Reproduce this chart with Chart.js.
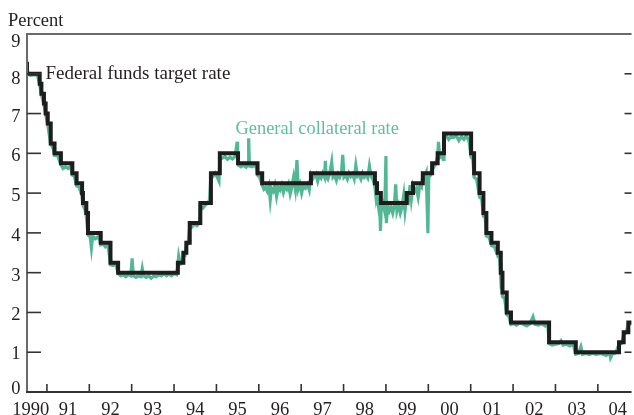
<!DOCTYPE html>
<html>
<head>
<meta charset="utf-8">
<script src="https://cdn.jsdelivr.net/npm/chart.js@4"></script>
<style>
html,body{margin:0;padding:0;background:#fff;}
#wrap{width:634px;height:415px;position:relative;}
</style>
</head>
<body>
<div id="wrap"><canvas id="c" width="634" height="415"></canvas></div>
<script>
// ---- data ----
const yTicks = [0,1,2,3,4,5,6,7,8,9];
const yearTickValues = [1991,1992,1993,1994,1995,1996,1997,1998,1999,2000,2001,2002,2003,2004];
const yearLabelValues = [1990.62,1991.5,1992.5,1993.5,1994.5,1995.5,1996.5,1997.5,1998.5,1999.5,2000.5,2001.5,2002.5,2003.5,2004.47];
const yearLabels = ['1990','91','92','93','94','95','96','97','98','99','00','01','02','03','04'];

// Federal funds target rate: change dates (decimal years) and new levels
const fedDates = [1990.52,1990.53,1990.83,1990.87,1990.93,1990.97,1991.02,1991.09,1991.18,1991.33,1991.60,1991.70,1991.83,1991.85,1991.93,1991.97,1992.27,1992.50,1992.68,1994.09,1994.22,1994.29,1994.37,1994.62,1994.87,1995.08,1995.51,1995.97,1996.08,1997.23,1998.74,1998.79,1998.88,1999.49,1999.64,1999.87,2000.09,2000.22,2000.37,2001.01,2001.08,2001.21,2001.30,2001.37,2001.49,2001.64,2001.71,2001.75,2001.85,2001.95,2002.85,2003.48,2004.50,2004.61,2004.72,2004.80];
const fedRates = [8.25,8.00,7.75,7.50,7.25,7.00,6.75,6.25,6.00,5.75,5.50,5.25,5.00,4.75,4.50,4.00,3.75,3.25,3.00,3.25,3.50,3.75,4.25,4.75,5.50,6.00,5.75,5.50,5.25,5.50,5.25,5.00,4.75,5.00,5.25,5.50,5.75,6.00,6.50,6.00,5.50,5.00,4.50,4.00,3.75,3.50,3.00,2.50,2.00,1.75,1.25,1.00,1.25,1.50,1.75,1.75];

// General collateral rate
const gcDates = [1990.52,1990.56,1990.62,1990.70,1990.78,1990.83,1990.87,1990.93,1990.97,1991.02,1991.09,1991.14,1991.18,1991.25,1991.33,1991.38,1991.44,1991.50,1991.56,1991.60,1991.65,1991.70,1991.76,1991.83,1991.85,1991.90,1991.93,1991.97,1992.02,1992.05,1992.08,1992.14,1992.20,1992.25,1992.27,1992.32,1992.38,1992.44,1992.50,1992.56,1992.62,1992.68,1992.74,1992.80,1992.86,1992.92,1992.98,1993.01,1993.04,1993.10,1993.16,1993.22,1993.25,1993.28,1993.34,1993.40,1993.46,1993.52,1993.58,1993.64,1993.70,1993.76,1993.82,1993.88,1993.94,1994.00,1994.06,1994.09,1994.11,1994.15,1994.20,1994.22,1994.26,1994.29,1994.33,1994.37,1994.42,1994.48,1994.54,1994.60,1994.62,1994.68,1994.74,1994.80,1994.84,1994.87,1994.92,1994.97,1995.02,1995.06,1995.08,1995.14,1995.20,1995.26,1995.32,1995.38,1995.44,1995.49,1995.50,1995.52,1995.58,1995.64,1995.70,1995.75,1995.76,1995.78,1995.84,1995.90,1995.95,1995.97,1996.02,1996.08,1996.12,1996.16,1996.20,1996.24,1996.27,1996.30,1996.34,1996.38,1996.42,1996.46,1996.50,1996.54,1996.58,1996.62,1996.66,1996.70,1996.74,1996.78,1996.82,1996.86,1996.90,1996.93,1996.97,1997.01,1997.05,1997.10,1997.15,1997.19,1997.23,1997.27,1997.31,1997.35,1997.39,1997.43,1997.47,1997.51,1997.55,1997.57,1997.59,1997.63,1997.67,1997.72,1997.75,1997.79,1997.83,1997.87,1997.91,1997.95,1997.98,1998.01,1998.05,1998.09,1998.13,1998.17,1998.21,1998.25,1998.29,1998.33,1998.37,1998.41,1998.45,1998.49,1998.53,1998.57,1998.61,1998.65,1998.69,1998.72,1998.74,1998.77,1998.79,1998.82,1998.85,1998.87,1998.89,1998.93,1998.97,1999.00,1999.01,1999.04,1999.08,1999.12,1999.16,1999.20,1999.23,1999.26,1999.30,1999.34,1999.38,1999.42,1999.45,1999.49,1999.53,1999.57,1999.60,1999.64,1999.68,1999.72,1999.76,1999.80,1999.84,1999.87,1999.91,1999.95,1999.99,2000.01,2000.05,2000.09,2000.13,2000.17,2000.22,2000.24,2000.27,2000.31,2000.35,2000.37,2000.42,2000.48,2000.54,2000.60,2000.66,2000.72,2000.78,2000.84,2000.90,2000.96,2001.01,2001.05,2001.08,2001.14,2001.21,2001.26,2001.30,2001.34,2001.37,2001.43,2001.49,2001.56,2001.64,2001.68,2001.71,2001.73,2001.75,2001.80,2001.85,2001.90,2001.95,2002.01,2002.08,2002.16,2002.24,2002.32,2002.40,2002.47,2002.52,2002.60,2002.68,2002.76,2002.82,2002.85,2002.92,2003.00,2003.08,2003.13,2003.18,2003.26,2003.34,2003.42,2003.48,2003.54,2003.60,2003.64,2003.72,2003.80,2003.88,2003.96,2004.04,2004.12,2004.20,2004.28,2004.30,2004.34,2004.42,2004.50,2004.56,2004.61,2004.66,2004.72,2004.79];
const gcRates = [8.22,7.98,7.96,7.98,7.95,7.72,7.48,7.22,6.98,6.72,6.22,6.15,5.95,5.95,5.72,5.62,5.66,5.62,5.68,5.45,5.42,5.18,5.15,4.92,4.70,4.58,4.42,3.95,3.90,3.62,3.92,3.85,3.90,3.82,3.70,3.72,3.65,3.72,3.20,3.18,3.22,2.98,2.92,2.95,2.90,2.95,2.92,3.36,2.92,2.88,2.92,2.90,3.10,2.92,2.88,2.92,2.86,2.92,2.90,2.95,2.92,2.97,2.92,2.96,2.92,2.98,2.95,3.20,3.42,3.22,3.25,3.48,3.45,3.70,3.72,4.18,4.15,4.22,4.18,4.25,4.68,4.62,4.70,4.75,4.85,5.45,5.42,5.50,5.40,5.30,5.85,5.88,5.92,5.85,5.90,5.86,5.92,6.29,5.90,5.70,5.66,5.70,5.65,5.72,6.38,5.68,5.66,5.70,5.62,5.45,5.40,5.20,5.10,5.15,5.05,5.18,4.83,5.12,5.05,5.20,4.92,5.15,5.08,5.20,5.02,5.18,5.10,5.22,4.98,5.15,5.40,5.12,5.83,5.10,5.22,5.00,5.18,5.12,5.22,5.08,5.45,5.35,5.42,5.48,5.30,5.45,5.38,5.50,5.40,5.81,5.42,5.35,5.48,5.78,5.40,5.45,5.32,5.48,5.40,5.50,5.96,5.40,5.45,5.35,5.50,5.42,5.48,5.36,5.70,5.42,5.45,5.35,5.50,5.40,5.45,5.38,5.68,5.42,5.35,5.25,5.15,4.85,4.95,4.70,4.90,4.05,4.65,4.75,4.55,5.93,4.25,4.70,4.55,4.65,4.50,4.70,5.22,4.55,4.70,4.50,4.65,4.95,4.55,4.88,4.80,5.20,4.85,5.18,5.05,5.12,4.90,5.20,5.15,5.45,5.38,5.50,3.99,5.40,5.45,5.68,5.65,5.72,5.92,6.29,5.90,5.95,5.85,6.40,6.45,6.35,6.42,6.40,6.45,6.32,6.42,6.35,6.45,6.30,5.90,5.85,5.40,5.35,4.90,4.85,4.42,4.40,3.92,3.90,3.68,3.65,3.42,3.45,2.85,2.95,2.40,2.35,1.95,1.90,1.70,1.72,1.68,1.74,1.70,1.66,1.72,1.89,1.70,1.68,1.72,1.66,1.70,1.22,1.18,1.20,1.22,1.29,1.18,1.20,1.16,1.20,0.95,0.97,1.14,0.95,0.97,0.94,0.98,0.94,0.97,0.95,0.92,0.98,0.86,0.95,0.98,1.20,1.22,1.45,1.48,1.70,1.72];

// ---- chart ----
const FONT = "'Liberation Serif','DejaVu Serif',serif";
const TEXT = '#231f20';
const GREEN = '#52b893';

const framePlugin = {
  id: 'frame',
  afterDraw(chart) {
    const ctx = chart.ctx;
    const xs = chart.scales.x, ys = chart.scales.y;
    const L = chart.chartArea.left, R = chart.chartArea.right;
    const T = chart.chartArea.top, B = chart.chartArea.bottom;
    ctx.save();
    ctx.lineCap = 'butt';
    ctx.strokeStyle = '#6a6a6a';
    ctx.lineWidth = 2;
    ctx.beginPath();
    ctx.moveTo(L, B); ctx.lineTo(L, T); ctx.lineTo(R, T);
    ctx.stroke();
    ctx.strokeStyle = '#333';
    ctx.beginPath();
    ctx.moveTo(L - 1, B); ctx.lineTo(R, B);
    ctx.stroke();
    ctx.strokeStyle = '#333';
    ctx.lineWidth = 1.6;
    yTicks.forEach(v => {
      if (v === 0 || v === 9) return;
      const py = ys.getPixelForValue(v);
      ctx.beginPath(); ctx.moveTo(L, py); ctx.lineTo(L + 14, py); ctx.stroke();
      ctx.beginPath(); ctx.moveTo(R - 7, py); ctx.lineTo(R, py); ctx.stroke();
    });
    yearTickValues.forEach(v => {
      const px = xs.getPixelForValue(v);
      ctx.beginPath(); ctx.moveTo(px, B); ctx.lineTo(px, B - 8); ctx.stroke();
    });
    ctx.fillStyle = TEXT;
    ctx.font = '18.5px ' + FONT;
    ctx.textAlign = 'right';
    ctx.textBaseline = 'alphabetic';
    yTicks.forEach(v => {
      const py = ys.getPixelForValue(v);
      let off = 8;
      if (v === 9) off = 13; else if (v === 8) off = 10; else if (v === 0) off = 1.5; else if (v === 1) off = 6.5;
      ctx.fillText(String(v), 20.5, py + off);
    });
    ctx.textAlign = 'left';
    ctx.fillText('Percent', 8, 26);
    ctx.font = '19px ' + FONT;
    ctx.fillText('Federal funds target rate', 45.5, 79);
    ctx.font = '18.4px ' + FONT;
    ctx.fillStyle = '#5cbf9a';
    ctx.fillText('General collateral rate', 235.5, 134);
    ctx.restore();
  }
};

new Chart(document.getElementById('c'), {
  type: 'line',
  data: {
    datasets: [
      {
        label: 'Federal funds target rate',
        data: fedDates.map((d, i) => ({x: d, y: fedRates[i]})),
        borderColor: '#1e1c1d',
        borderWidth: 4,
        pointRadius: 0,
        stepped: true,
        borderJoinStyle: 'miter'
      },
      {
        label: 'General collateral rate',
        data: gcDates.map((d, i) => ({x: d, y: gcRates[i]})),
        borderColor: GREEN,
        borderWidth: 3.2,
        pointRadius: 0,
        tension: 0,
        borderJoinStyle: 'miter'
      }
    ]
  },
  options: {
    responsive: false,
    animation: false,
    events: [],
    layout: { padding: { top: 34, left: 0, right: 0, bottom: 0 } },
    plugins: { legend: { display: false }, tooltip: { enabled: false } },
    scales: {
      x: {
        type: 'linear',
        min: 1990.53,
        max: 2004.795,
        afterBuildTicks: s => { s.ticks = yearLabelValues.map(v => ({value: v})); },
        afterFit: s => { s.height = 23; },
        grid: { display: false, drawTicks: false },
        border: { display: false },
        ticks: {
          autoSkip: false,
          maxRotation: 0,
          padding: 7,
          color: TEXT,
          font: { family: FONT, size: 18.5 },
          callback: (v, i) => yearLabels[i]
        }
      },
      y: {
        type: 'linear',
        min: 0,
        max: 9,
        afterBuildTicks: s => { s.ticks = yTicks.map(v => ({value: v})); },
        afterFit: s => { s.width = 27; },
        grid: { display: false, drawTicks: false },
        border: { display: false },
        ticks: { display: false }
      }
    }
  },
  plugins: [framePlugin]
});
</script>
</body>
</html>
